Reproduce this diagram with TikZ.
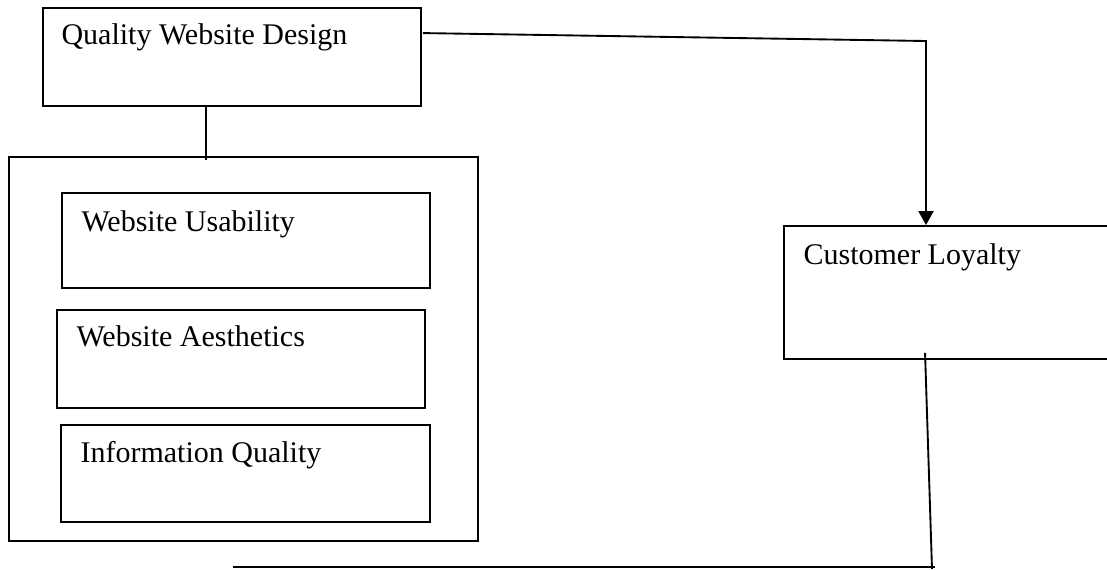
\documentclass[tikz,border=0pt]{standalone}
\usepackage{fontspec}
\setmainfont{Liberation Serif}
\usetikzlibrary{arrows.meta,positioning,calc,fit}

\begin{document}
\begin{tikzpicture}[x=0.4pt,y=-0.4pt,
 box/.style={draw,rectangle,line width=0.75pt,inner sep=0pt},
 lbl/.style={font=\fontsize{12}{14}\selectfont,inner sep=0pt,anchor=base west},
 link/.style={line width=0.75pt}]
\useasboundingbox (0,0) rectangle (1107,569);
\clip (0,0) rectangle (1107,569);
% ---------- design block
\node[box,fit={(43,8) (421,106)}] (qwd){};
\node[lbl] (qwdtxt) at ($(qwd.north west)+(19,37)$){Quality Website Design};
% ---------- dimensions
\node[box,fit={(9,157) (478,541)}] (dims){};
\node[box,fit={(62,193) (430,288)}] (wu){};
\node[lbl] (wutxt) at ($(wu.north west)+(20,39)$){Website Usability};
\node[box,fit={(57,310) (425,408)}] (wa){};
\node[lbl] (watxt) at ($(wa.north west)+(20,37)$){Website Aesthetics};
\node[box,fit={(61,425) (430,522)}] (iq){};
\node[lbl] (iqtxt) at ($(iq.north west)+(20,38)$){Information Quality};
% ---------- outcome
\node[box,fit={(784,226) (1130,359)}] (cl){};
\node[lbl] (cltxt) at ($(cl.north west)+(20,39)$){Customer Loyalty};
% ---------- links
\draw[link] ($(qwd.south west)+(164,0)$) -- ($(dims.north west)+(198,4)$);
\coordinate (bend) at (926,41);
\draw[link,-{Triangle[width=6pt,length=5.6pt]}] ($(qwd.north east)+(1,26)$) -- (bend) -- (bend |- cl.north);
\coordinate (foot) at (932,569);
\draw[link] ($(cl.south west)+(142,-7)$) -- (foot);
\coordinate (footend) at (935,567);
\coordinate (tail) at (233,567);
\draw[link] (footend) -- (tail);
\end{tikzpicture}
\end{document}
